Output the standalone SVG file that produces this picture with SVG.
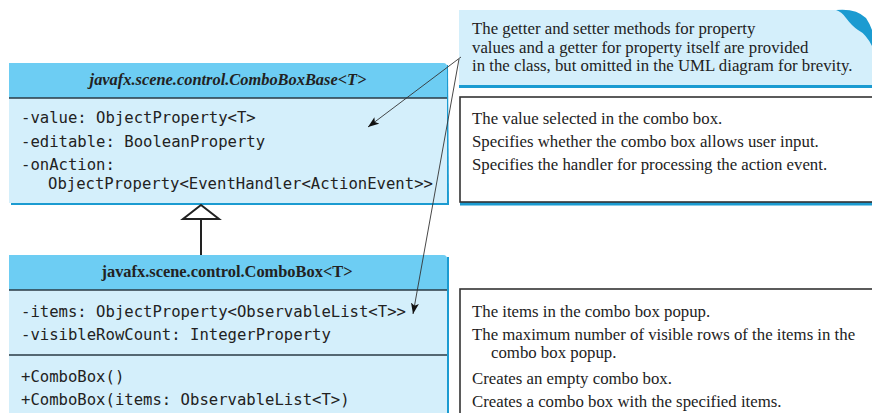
<svg xmlns="http://www.w3.org/2000/svg" width="872" height="413" viewBox="0 0 872 413">
<style>
.hdr{fill:#6dcdf3}
.body{fill:#d4effb}
.shadow{fill:#1b9bd1}
.sep{stroke:#2a3a44;stroke-width:1.6}
.mono{font-family:"DejaVu Sans Mono","Liberation Mono",monospace;font-size:15.6px;fill:#222}
.serif{font-family:"Liberation Serif","Times New Roman",serif;font-size:16.8px;fill:#222}
.title{font-family:"Liberation Serif","Times New Roman",serif;font-size:16.4px;font-weight:bold;fill:#222}
.desc{fill:#fff;stroke:#333;stroke-width:1.6}
.conn{stroke:#333;stroke-width:0.9;fill:none}
</style>
<defs>
<marker id="arr" markerUnits="userSpaceOnUse" markerWidth="12" markerHeight="10" refX="11" refY="4" orient="auto">
<path d="M0,0 L11,4 L0,8 L2.5,4 Z" fill="#111"/>
</marker>
</defs>
<rect width="872" height="413" fill="#fff"/>

<g id="note">
<path d="M459,10 L838,10 Q852,10 862,18 Q868,24 872,32 L872,88 L459,88 Z" class="body"/>
<path d="M836,10 Q856,8 866,18 Q870,24 872,30 L872,46 Q866,34 858,30 Q852,26 846,18 Q842,12 836,10 Z" class="shadow"/>
<rect x="459" y="85" width="413" height="3" class="shadow"/>
<text class="serif" x="472" y="34">The getter and setter methods for property</text>
<text class="serif" x="472" y="52.5">values and a getter for property itself are provided</text>
<text class="serif" x="472" y="71">in the class, but omitted in the UML diagram for brevity.</text>
</g>

<g id="combobox-base">
<path d="M11,65 L448,65 L449,205 L11,205 Z" class="shadow"/>
<path d="M9,63 L443,63 Q447,63 447,67 L447,203 L9,203 Z" class="body"/>
<path d="M9,63 L443,63 Q447,63 447,67 L447,98 L9,98 Z" class="hdr"/>
<line x1="9" y1="98" x2="447" y2="98" class="sep"/>
<text class="title" font-style="italic" font-size="16.6" x="228" y="85" text-anchor="middle">javafx.scene.control.ComboBoxBase&lt;T&gt;</text>
<text class="mono" x="21" y="123">-value: ObjectProperty&lt;T&gt;</text>
<text class="mono" x="21" y="147">-editable: BooleanProperty</text>
<text class="mono" x="21" y="170">-onAction:</text>
<text class="mono" x="48" y="189">ObjectProperty&lt;EventHandler&lt;ActionEvent&gt;&gt;</text>
</g>

<g id="combobox">
<path d="M11,257 L449,257 L449,413 L11,413 Z" class="shadow"/>
<path d="M9,255 L443,255 Q447,255 447,259 L447,413 L9,413 Z" class="body"/>
<path d="M9,255 L443,255 Q447,255 447,259 L447,290 L9,290 Z" class="hdr"/>
<line x1="9" y1="290" x2="447" y2="290" class="sep"/>
<line x1="9" y1="355" x2="447" y2="355" class="sep"/>
<text class="title" x="227" y="277" text-anchor="middle">javafx.scene.control.ComboBox&lt;T&gt;</text>
<text class="mono" x="21" y="317">-items: ObjectProperty&lt;ObservableList&lt;T&gt;&gt;</text>
<text class="mono" x="21" y="340">-visibleRowCount: IntegerProperty</text>
<text class="mono" x="21" y="382">+ComboBox()</text>
<text class="mono" x="21" y="405">+ComboBox(items: ObservableList&lt;T&gt;)</text>
</g>

<g id="desc-base">
<rect x="460" y="202" width="412" height="3.5" class="shadow"/>
<rect x="460" y="97" width="420" height="105" class="desc"/>
<text class="serif" x="472" y="124">The value selected in the combo box.</text>
<text class="serif" x="472" y="147">Specifies whether the combo box allows user input.</text>
<text class="serif" x="472" y="170">Specifies the handler for processing the action event.</text>
</g>

<g id="desc-combobox">
<rect x="460" y="289" width="420" height="140" class="desc"/>
<text class="serif" x="472" y="317">The items in the combo box popup.</text>
<text class="serif" x="472" y="340">The maximum number of visible rows of the items in the</text>
<text class="serif" x="491" y="358">combo box popup.</text>
<text class="serif" x="472" y="384">Creates an empty combo box.</text>
<text class="serif" x="472" y="407">Creates a combo box with the specified items.</text>
</g>

<g id="connectors">
<line x1="201" y1="219" x2="201" y2="255" stroke="#222" stroke-width="2"/>
<path d="M201,205 L219,219 L183,219 Z" fill="#fff" stroke="#222" stroke-width="2" stroke-linejoin="miter"/>
<line x1="461" y1="57" x2="368" y2="127" class="conn" marker-end="url(#arr)"/>
<line x1="459" y1="59" x2="413" y2="314" class="conn" marker-end="url(#arr)"/>
</g>
</svg>
